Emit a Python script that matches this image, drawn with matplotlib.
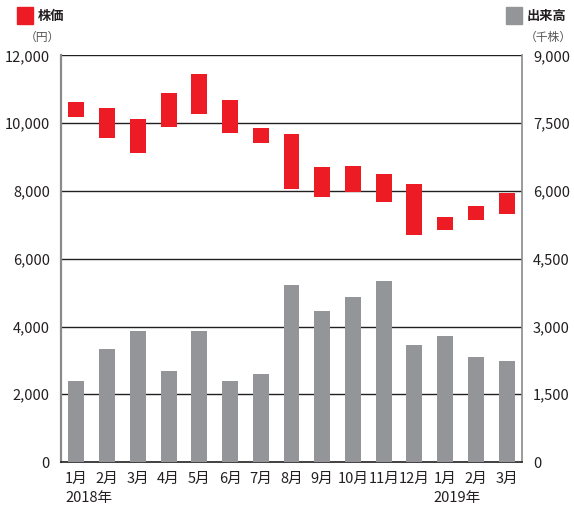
import numpy as np
import matplotlib.pyplot as plt
from matplotlib.patches import Rectangle

plt.rcParams['font.family'] = ['Noto Sans CJK JP', 'DejaVu Sans']

# Monthly data, Jan 2018 - Mar 2019
months = ["1月", "2月", "3月", "4月", "5月", "6月", "7月", "8月",
          "9月", "10月", "11月", "12月", "1月", "2月", "3月"]
years = {0: "2018年", 12: "2019年"}

# Share price range (yen)
price_high = [10620, 10440, 10140, 10880, 11440, 10680, 9850, 9670,
              8700, 8730, 8490, 8220, 7220, 7545, 7930]
price_low = [10180, 9560, 9120, 9890, 10270, 9710, 9415, 8055,
             7820, 7965, 7670, 6700, 6845, 7140, 7320]

# Trading volume (thousand shares)
volume = [1790, 2500, 2895, 2010, 2895, 1790, 1945, 3915,
          3340, 3650, 4000, 2590, 2785, 2320, 2235]

price_ticks = [0, 2000, 4000, 6000, 8000, 10000, 12000]
volume_ticks = [0, 1500, 3000, 4500, 6000, 7500, 9000]

RED = "#ed1c24"
GRAY = "#939598"
TEXT = "#231f20"

fig = plt.figure(figsize=(5.74, 5.05), dpi=100)
ax = fig.add_axes([0.1063, 0.0851, 0.8031, 0.805])
ax2 = ax.twinx()

x = np.arange(len(months))
w = 0.52

# gridlines behind the bars
for t in price_ticks[1:]:
    ax.axhline(t, color=TEXT, lw=1.0, zorder=0)

ax.bar(x, np.array(price_high) - np.array(price_low), bottom=price_low,
       width=w, color=RED, zorder=3)
ax2.bar(x, volume, width=w, color=GRAY, zorder=2)

ax.set_xlim(-0.5, len(months) - 0.5)
ax.set_ylim(0, 12000)
ax2.set_ylim(0, 9000)

ax.set_yticks(price_ticks)
ax.set_yticklabels([f"{t:,}" for t in price_ticks])
ax2.set_yticks(volume_ticks)
ax2.set_yticklabels([f"{t:,}" for t in volume_ticks])

ax.set_xticks(x)
ax.set_xticklabels(months)

for a in (ax, ax2):
    a.tick_params(length=0, labelsize=10.5, labelcolor=TEXT)
    for s in a.spines.values():
        s.set_visible(False)
ax.tick_params(axis='y', pad=8)
ax2.tick_params(axis='y', pad=8)
ax.tick_params(axis='x', pad=7)

ax.spines['left'].set_visible(True)
ax.spines['left'].set_color("#8a8a8a")
ax.spines['left'].set_linewidth(1.6)
ax.spines['right'].set_visible(True)
ax.spines['right'].set_color("#8a8a8a")
ax.spines['right'].set_linewidth(1.2)
ax.spines['bottom'].set_visible(True)
ax.spines['bottom'].set_color(TEXT)
ax.spines['bottom'].set_linewidth(1.2)

# year labels, left-aligned with the first month of each year
for i, yr in years.items():
    ax.text(i - 0.37, -0.088, yr, transform=ax.get_xaxis_transform(),
            ha='left', va='center', fontsize=10.5, color=TEXT)

# legend markers and unit labels
fig.patches.append(Rectangle((17 / 574, 1 - 24 / 505), 16 / 574, 17 / 505,
                             transform=fig.transFigure, color=RED))
fig.text(38 / 574, 1 - 16 / 505, "株価", fontsize=9.5, fontweight='bold',
         color=TEXT, va='center', ha='left')
fig.text(42 / 574, 1 - 37 / 505, "（円）", fontsize=8.5, color="#555555",
         va='center', ha='center')

fig.patches.append(Rectangle((506 / 574, 1 - 24 / 505), 16 / 574, 17 / 505,
                             transform=fig.transFigure, color=GRAY))
fig.text(527 / 574, 1 - 16 / 505, "出来高", fontsize=9.5, fontweight='bold',
         color=TEXT, va='center', ha='left')
fig.text(548 / 574, 1 - 37 / 505, "（千株）", fontsize=8.5, color="#555555",
         va='center', ha='center')

fig.savefig("out.png", dpi=100)
